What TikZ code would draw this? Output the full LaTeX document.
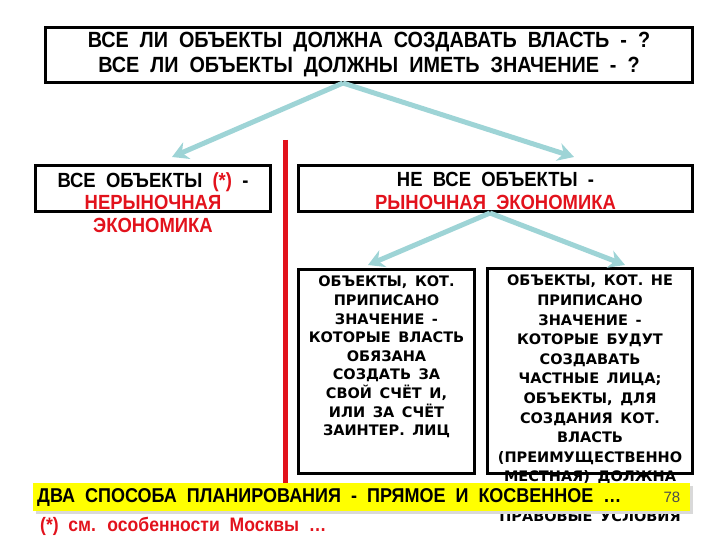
\documentclass[tikz,border=0pt]{standalone}
\usepackage{fontspec}
\setmainfont{Liberation Sans}
\newfontfamily\narrowfont[FakeStretch=0.9,WordSpace=2]{Liberation Sans}
\newfontfamily\widefont[FakeStretch=1.0,WordSpace=1.5]{DejaVu Sans}
\usetikzlibrary{arrows.meta}
\definecolor{slidered}{RGB}{226,18,28}
\definecolor{forkblue}{RGB}{158,212,214}
\definecolor{baryellow}{RGB}{255,255,0}
\tikzset{
  frame/.style={draw=black, line width=3pt, inner sep=0pt, anchor=north west},
  headtext/.style={font=\narrowfont\bfseries\fontsize{22}{25}\selectfont, align=center, inner sep=0pt},
  midtext/.style={font=\narrowfont\bfseries\fontsize{20.5}{22.5}\selectfont, align=center, inner sep=0pt, anchor=north},
  boxtext/.style={font=\widefont\bfseries\fontsize{14.5}{19.6}\selectfont, align=center, inner sep=0pt, anchor=north},
  forkarrow/.style={draw=forkblue, line width=5pt, -{Stealth[length=16pt,width=18pt]}},
}
\begin{document}
\begin{tikzpicture}[x=1pt,y=-1pt]
\useasboundingbox (0,0) rectangle (720,540);
% top question
\node[frame, minimum width=647pt, minimum height=55pt] (question) at (44,26) {};
\node[headtext] (questiontext) at (question.center) {ВСЕ ЛИ ОБЪЕКТЫ ДОЛЖНА СОЗДАВАТЬ ВЛАСТЬ - ?\\ВСЕ ЛИ ОБЪЕКТЫ ДОЛЖНЫ ИМЕТЬ ЗНАЧЕНИЕ - ?};
% separator
\draw[slidered, line width=5pt] (285,140) -- (285,487);
% second row
\node[frame, minimum width=235pt, minimum height=46pt] (nonmarket) at (34,164) {};
\node[midtext] (nonmarkettext) at ([yshift=-8pt]nonmarket.north) {ВСЕ ОБЪЕКТЫ \textcolor{slidered}{(*)} -\\\textcolor{slidered}{НЕРЫНОЧНАЯ}\\\textcolor{slidered}{ЭКОНОМИКА}};
\node[frame, minimum width=394pt, minimum height=46pt] (market) at (297,164) {};
\node[midtext] (markettext) at ([yshift=-8pt]market.north) {НЕ ВСЕ ОБЪЕКТЫ -\\\textcolor{slidered}{РЫНОЧНАЯ ЭКОНОМИКА}};
\coordinate (fork1) at (343,83);
\coordinate (tip1) at (172,157);
\coordinate (tip2) at (574,157);
\draw[forkarrow] (fork1) -- (tip1);
\draw[forkarrow] (fork1) -- (tip2);
% third row
\node[frame, minimum width=176pt, minimum height=204pt] (assigned) at (297,268) {};
\node[frame, minimum width=205pt, minimum height=205pt] (notassigned) at (486,267) {};
\coordinate (fork2) at (490,213);
\coordinate (tip3) at (368,265);
\coordinate (tip4) at (625,265);
\draw[forkarrow] (fork2) -- (tip3);
\draw[forkarrow] (fork2) -- (tip4);
\node[boxtext, font=\widefont\bfseries\fontsize{14.5}{18.6}\selectfont] (assignedtext) at ([yshift=-8pt]assigned.north) {ОБЪЕКТЫ, КОТ.\\ПРИПИСАНО\\ЗНАЧЕНИЕ -\\КОТОРЫЕ ВЛАСТЬ\\ОБЯЗАНА\\СОЗДАТЬ ЗА\\СВОЙ СЧЁТ И,\\ИЛИ ЗА СЧЁТ\\ЗАИНТЕР. ЛИЦ};
\node[boxtext] (notassignedtext) at ([yshift=-8pt]notassigned.north) {ОБЪЕКТЫ, КОТ. НЕ\\ПРИПИСАНО\\ЗНАЧЕНИЕ -\\КОТОРЫЕ БУДУТ\\СОЗДАВАТЬ\\ЧАСТНЫЕ ЛИЦА;\\ОБЪЕКТЫ, ДЛЯ\\СОЗДАНИЯ КОТ.\\ВЛАСТЬ\\(ПРЕИМУЩЕСТВЕННО\\МЕСТНАЯ) ДОЛЖНА\\[19.6pt]ПРАВОВЫЕ УСЛОВИЯ};
% bottom bar
\fill[black!15] (36,486) rectangle (693,514);
\node[fill=baryellow, minimum width=657pt, minimum height=28pt, inner sep=0pt, anchor=north west] (bar) at (33,483) {};
\node[font=\narrowfont\bfseries\fontsize{20}{22}\selectfont, anchor=west, inner sep=0pt] (bartext) at ([xshift=4pt]bar.west) {ДВА СПОСОБА ПЛАНИРОВАНИЯ - ПРЯМОЕ И КОСВЕННОЕ …};
\node[font=\fontsize{15}{16}\selectfont, text=black!70, anchor=east, inner sep=0pt] (pagenum) at ([xshift=-10pt]bar.east) {78};
\node[font=\narrowfont\bfseries\fontsize{19.5}{22}\selectfont, text=slidered, anchor=west, inner sep=0pt] (footnote) at (40,526) {(*) см. особенности Москвы …};
\end{tikzpicture}
\end{document}
